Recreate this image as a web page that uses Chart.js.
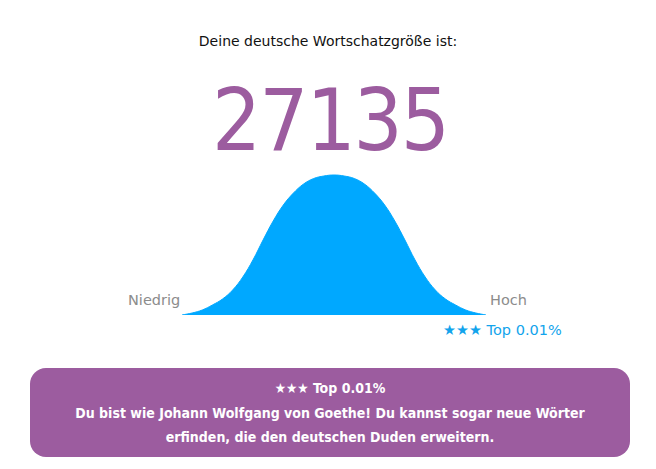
<!DOCTYPE html>
<html>
<head>
<meta charset="utf-8">
<script src="https://cdn.jsdelivr.net/npm/chart.js@4.4.1/dist/chart.umd.min.js"></script>
<style>
  html, body { margin: 0; padding: 0; background: #ffffff; }
  body { width: 656px; height: 469px; position: relative; overflow: hidden; font-family: "DejaVu Sans", sans-serif; }
  .abs { position: absolute; white-space: nowrap; }
  #title { left: 0; width: 656px; top: 32px; text-align: center; font-size: 14px; line-height: 18px; color: #111; }
  #score { left: 2px; width: 656px; top: 70px; text-align: center; font-family: "DejaVu Sans Condensed", "DejaVu Sans", sans-serif; font-size: 86px; line-height: 100px; color: #9c5c9f; letter-spacing: -2px; }
  #low { left: 128px; top: 291px; font-size: 14.5px; line-height: 18px; color: #8c8c8c; }
  #high { left: 490px; top: 291px; font-size: 14.5px; line-height: 18px; color: #8c8c8c; }
  #rank { left: 443px; top: 321px; font-size: 14.5px; line-height: 18px; color: #12a4ec; }
  #chartBox { position: absolute; left: 182px; top: 170px; width: 304px; height: 145px; }
  #box { position: absolute; left: 30px; top: 368px; width: 600px; height: 89px; background: #9c5c9f; border-radius: 16px; }
  #boxText { position: absolute; left: 0; width: 600px; top: 8px; text-align: center; color: #ffffff; font-family: "DejaVu Sans Condensed", "DejaVu Sans", sans-serif; font-weight: bold; font-size: 14px; line-height: 24.5px; }
</style>
</head>
<body>
<div id="title" class="abs">Deine deutsche Wortschatzgröße ist:</div>
<div id="score" class="abs"></div>
<div id="low" class="abs"></div>
<div id="high" class="abs"></div>
<div id="rank" class="abs"></div>
<div id="chartBox"><canvas id="c"></canvas></div>
<div id="box"><div id="boxText"></div></div>
<script>
// Data
const scoreValue = "27135";
const axisLabels = ["Niedrig", "Hoch"];
const rankLabel = "★★★ Top 0.01%";
const messageLines = [
  "★★★ Top 0.01%",
  "Du bist wie Johann Wolfgang von Goethe! Du kannst sogar neue Wörter",
  "erfinden, die den deutschen Duden erweitern."
];
// Bell curve: position (relative, -150..150) and height
const curveX = [-150,-140,-130,-120,-110,-100,-90,-80,-70,-60,-50,-40,-30,-20,-10,0,10,20,30,40,50,60,70,80,90,100,110,120,130,140,150];
const curveY = [0,2,5,10,16,25,38,55,75,94,110,122,131,136.5,139,140,139,136.5,131,122,110,94,75,55,38,25,16,10,5,2,0];

document.getElementById('score').textContent = scoreValue;
document.getElementById('low').textContent = axisLabels[0];
document.getElementById('high').textContent = axisLabels[1];
document.getElementById('rank').textContent = rankLabel;
const bt = document.getElementById('boxText');
messageLines.forEach(l => { const d = document.createElement('div'); d.textContent = l; bt.appendChild(d); });

new Chart(document.getElementById('c'), {
  type: 'line',
  data: {
    datasets: [{
      data: curveX.map((x, i) => ({ x: x, y: curveY[i] })),
      fill: 'origin',
      backgroundColor: '#00a8ff',
      borderColor: '#00a8ff',
      borderWidth: 1,
      pointRadius: 0,
      tension: 0.4
    }]
  },
  options: {
    responsive: true,
    maintainAspectRatio: false,
    animation: false,
    layout: { padding: 0 },
    plugins: { legend: { display: false }, tooltip: { enabled: false } },
    scales: {
      x: { type: 'linear', min: -150, max: 150, display: false },
      y: { min: 0, max: 145, display: false }
    }
  }
});
</script>
</body>
</html>
